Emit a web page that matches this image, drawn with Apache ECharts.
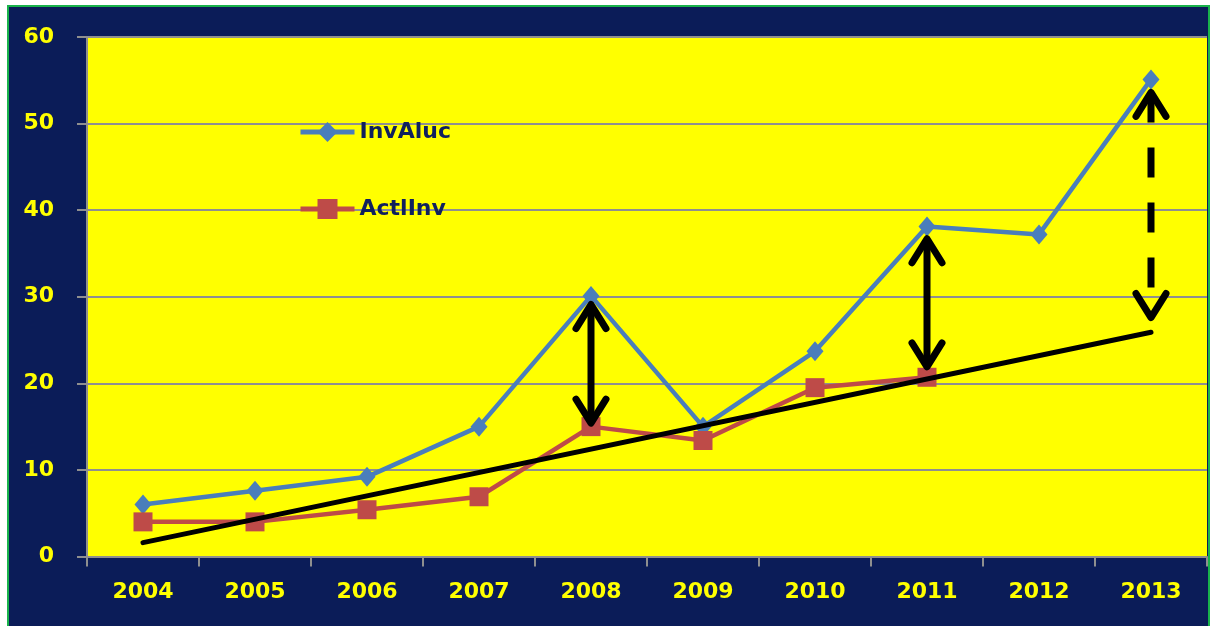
<!DOCTYPE html>
<html>
<head>
<meta charset="utf-8">
<script src="https://cdn.jsdelivr.net/npm/echarts@6/dist/echarts.min.js"></script>
<style>
  html, body { margin: 0; padding: 0; background: #ffffff; }
  #chart { width: 1213px; height: 626px; }
</style>
</head>
<body>
<div id="chart"></div>
<script>
// Yearly categories and tick labels
const years = ['2004', '2005', '2006', '2007', '2008', '2009', '2010', '2011', '2012', '2013'];
const yTicks = [0, 10, 20, 30, 40, 50, 60];

// Series values
const invAluc = [6, 7.6, 9.2, 15, 30.1, 15, 23.7, 38.1, 37.2, 55.1];
const actlInv = [4, 4, 5.4, 6.9, 15, 13.4, 19.5, 20.7, null, null];

// Trend line end points [year, value]
const trendStart = ['2004', 1.6];
const trendEnd = ['2013', 25.9];

// Double-headed gap arrows: [year, lower tip, upper tip, dashed(1/0)]
const gapArrows = [
  ['2008', 15.4, 29.1, 0],
  ['2011', 21.9, 36.7, 0],
  ['2013', 27.6, 53.6, 1]
];

const NAVY = '#0b1c58';
const YELLOW = '#ffff00';
const GRID_GRAY = '#8f8f8f';
const FONT = '"DejaVu Sans", Verdana, sans-serif';

function renderArrow(params, api) {
  const top = api.coord([api.value(0), api.value(2)]);
  const bot = api.coord([api.value(0), api.value(1)]);
  const dashed = api.value(3) === 1;
  const hw = 15, hh = 24;
  const base = { stroke: '#000000', lineWidth: 7, fill: null, lineJoin: 'round', lineCap: 'round' };
  return {
    type: 'group',
    children: [
      {
        type: 'line',
        shape: { x1: top[0], y1: top[1] + 4, x2: bot[0], y2: bot[1] - 4 },
        style: Object.assign({}, base, { lineCap: 'butt' }, dashed ? { lineDash: [30, 25], lineDashOffset: 4 } : {})
      },
      {
        type: 'polyline',
        shape: { points: [[top[0] - hw, top[1] + hh], [top[0], top[1]], [top[0] + hw, top[1] + hh]] },
        style: base
      },
      {
        type: 'polyline',
        shape: { points: [[bot[0] - hw, bot[1] - hh], [bot[0], bot[1]], [bot[0] + hw, bot[1] - hh]] },
        style: base
      }
    ]
  };
}

const chart = echarts.init(document.getElementById('chart'), null, { renderer: 'canvas' });

chart.setOption({
  animation: false,
  backgroundColor: NAVY,
  textStyle: { fontFamily: FONT },
  graphic: [
    { type: 'rect', silent: true, z: -10, shape: { x: 0, y: 0, width: 8, height: 626 }, style: { fill: '#ffffff' } },
    { type: 'rect', silent: true, z: -10, shape: { x: 0, y: 0, width: 1213, height: 6 }, style: { fill: '#ffffff' } },
    { type: 'rect', silent: true, z: -10, shape: { x: 1210, y: 0, width: 3, height: 626 }, style: { fill: '#ffffff' } },
    { type: 'polyline', silent: true, z: 100,
      shape: { points: [[8, 630], [8, 6], [1209, 6], [1209, 630]] },
      style: { stroke: '#19b24b', lineWidth: 2, fill: null } }
  ],
  grid: {
    left: 87, right: 6, top: 37, bottom: 69.5,
    show: true, backgroundColor: YELLOW, borderWidth: 0
  },
  legend: {
    data: ['InvAluc', 'ActlInv'],
    orient: 'vertical',
    left: 298,
    top: 121,
    padding: 0,
    itemWidth: 54,
    itemHeight: 25,
    itemGap: 55,
    lineStyle: { width: 5 },
    textStyle: { color: '#10205e', fontSize: 22, fontWeight: 'bold', fontFamily: FONT }
  },
  xAxis: {
    type: 'category',
    data: years,
    boundaryGap: true,
    axisLine: { show: true, lineStyle: { color: GRID_GRAY, width: 2 } },
    axisTick: { show: true, length: 10, lineStyle: { color: GRID_GRAY, width: 2 } },
    axisLabel: { color: YELLOW, fontSize: 22, fontWeight: 'bold', fontFamily: FONT, margin: 25 },
    splitLine: { show: false }
  },
  yAxis: {
    type: 'value',
    min: yTicks[0],
    max: yTicks[yTicks.length - 1],
    interval: 10,
    axisLine: { show: true, lineStyle: { color: GRID_GRAY, width: 2 } },
    axisTick: { show: true, length: 10, lineStyle: { color: GRID_GRAY, width: 2 } },
    axisLabel: { color: YELLOW, fontSize: 22, fontWeight: 'bold', fontFamily: FONT, margin: 33 },
    splitLine: { show: true, lineStyle: { color: GRID_GRAY, width: 2 } }
  },
  series: [
    {
      name: 'InvAluc',
      type: 'line',
      data: invAluc,
      symbol: 'diamond',
      symbolSize: [17, 20],
      z: 3,
      itemStyle: { color: '#4a7ebb' },
      lineStyle: { color: '#4a7ebb', width: 4.5 }
    },
    {
      name: 'ActlInv',
      type: 'line',
      data: actlInv,
      symbol: 'rect',
      symbolSize: 19,
      z: 3,
      itemStyle: { color: '#be4b48' },
      lineStyle: { color: '#be4b48', width: 4.5 }
    },
    {
      name: 'Trend',
      type: 'line',
      data: [trendStart, trendEnd],
      symbol: 'none',
      z: 4,
      lineStyle: { color: '#000000', width: 5, cap: 'round' }
    },
    {
      name: 'Gap',
      type: 'custom',
      data: gapArrows,
      encode: { x: 0, y: [1, 2] },
      z: 5,
      renderItem: renderArrow
    }
  ]
});
</script>
</body>
</html>
